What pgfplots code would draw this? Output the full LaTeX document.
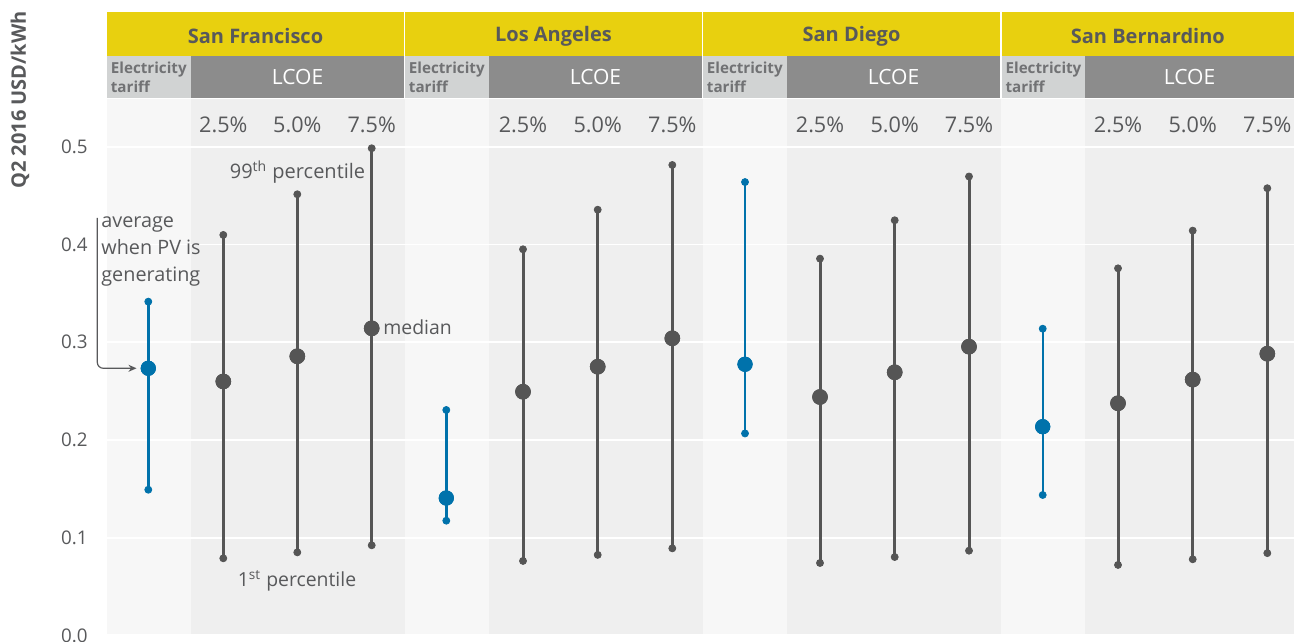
\documentclass[border=0pt]{standalone}
\usepackage{fontspec}
\setmainfont{Open Sans}
\usepackage{pgfplots}
\pgfplotsset{compat=1.18}
\usepackage{pgfplotstable}
\usetikzlibrary{arrows.meta}
\definecolor{ylw}{HTML}{E8D00F}
\definecolor{hdark}{HTML}{8C8C8C}
\definecolor{hlight}{HTML}{D1D3D3}
\definecolor{bgA}{HTML}{F7F7F7}
\definecolor{bgB}{HTML}{EFEFEF}
\definecolor{txt}{HTML}{58595B}
\definecolor{blu}{HTML}{0072AB}
\definecolor{dk}{HTML}{555555}

\pgfplotstableread{
x med lo hi
148.3 0.2734 0.1491 0.3416
446.3 0.1406 0.1174 0.2307
745.0 0.2775 0.2067 0.4640
1042.7 0.2136 0.1437 0.3139
}\tariff

\pgfplotstableread{
x med lo hi
223.3 0.2599 0.0789 0.4099
297.3 0.2857 0.0850 0.4515
371.7 0.3143 0.0922 0.4986
523.0 0.2494 0.0762 0.3952
597.7 0.2750 0.0824 0.4357
672.3 0.3041 0.0891 0.4815
820.0 0.2440 0.0741 0.3856
894.7 0.2693 0.0802 0.4249
969.0 0.2955 0.0867 0.4697
1118.0 0.2376 0.0721 0.3757
1192.7 0.2618 0.0779 0.4143
1267.3 0.2883 0.0842 0.4577
}\lcoe

\newcommand{\panelbg}[3]{%
  \fill[bgA] (axis cs:#1,0) rectangle (axis cs:#2,{(635.4-99)/977});
  \fill[bgB] (axis cs:#2,0) rectangle (axis cs:#3,{(635.4-99)/977});}
\newcommand{\panelhd}[3]{%
  \fill[ylw] (axis cs:#1,{(635.4-56)/977}) rectangle (axis cs:#3,{(635.4-12)/977});
  \fill[hlight] (axis cs:#1,{(635.4-97.7)/977}) rectangle (axis cs:#2,{(635.4-56)/977});
  \fill[hdark] (axis cs:#2,{(635.4-97.7)/977}) rectangle (axis cs:#3,{(635.4-56)/977});}
\newcommand{\pcts}[3]{%
  \node[font=\fontsize{10.8}{12}\selectfont, text=txt] at (axis cs:#1,{(635.4-125)/977}) {2.5\%};
  \node[font=\fontsize{10.8}{12}\selectfont, text=txt] at (axis cs:#2,{(635.4-125)/977}) {5.0\%};
  \node[font=\fontsize{10.8}{12}\selectfont, text=txt] at (axis cs:#3,{(635.4-125)/977}) {7.5\%};}
\newcommand{\subhd}[3]{%
  \node[font=\fontsize{7.6}{9.5}\selectfont\bfseries, text=txt!85, align=left, anchor=west, inner sep=0pt] at (axis cs:{#1+3.5},{(635.4-77)/977}) {Electricity\\tariff};
  \node[font=\fontsize{10.5}{12}\selectfont, text=white] at (axis cs:{(#2+#3)/2},{(635.4-77)/977}) {LCOE};}

\begin{document}
\begin{tikzpicture}
\begin{axis}[
  set layers, scale only axis, width=593.5pt, height=311.7pt,
  xmin=107, xmax=1294, ymin=0, ymax=0.6381,
  clip=false,
  axis line style={draw=none},
  xtick=\empty,
  ytick={0,0.1,0.2,0.3,0.4,0.5},
  yticklabels={0.0,0.1,0.2,0.3,0.4,0.5},
  major tick length=0pt,
  yticklabel style={font=\fontsize{9.4}{11}\selectfont, text=txt, anchor=east, inner sep=0pt, xshift=-9.5pt},
  ymajorgrids, grid style={white, line width=0.9pt},
]
\begin{pgfonlayer}{axis background}
\panelbg{107}{191}{404.5}
\panelbg{404.5}{489}{703}
\panelbg{703}{787}{1001}
\panelbg{1001}{1085}{1294}
\panelhd{107}{191}{404}
\panelhd{405}{489}{702}
\panelhd{703}{787}{1000}
\panelhd{1001.7}{1085}{1294}
\end{pgfonlayer}

% LCOE whiskers
\addplot[only marks, mark=*, mark size=3.7pt, color=dk,
  error bars/.cd, y dir=both, y explicit,
  error bar style={line width=1.5pt, color=dk}, error mark=none]
  table[x=x, y=med, y error plus expr=\thisrow{hi}-\thisrow{med}, y error minus expr=\thisrow{med}-\thisrow{lo}] {\lcoe};
\addplot[only marks, mark=*, mark size=1.75pt, color=dk] table[x=x, y=lo] {\lcoe};
\addplot[only marks, mark=*, mark size=1.75pt, color=dk] table[x=x, y=hi] {\lcoe};
\addplot[only marks, mark=*, mark size=3.7pt, color=dk] table[x=x, y=med] {\lcoe};

% tariff whiskers
\addplot[only marks, mark=*, mark size=3.6pt, color=blu,
  error bars/.cd, y dir=both, y explicit,
  error bar style={line width=1.2pt, color=blu}, error mark=none]
  table[x=x, y=med, y error plus expr=\thisrow{hi}-\thisrow{med}, y error minus expr=\thisrow{med}-\thisrow{lo}] {\tariff};
\addplot[only marks, mark=*, mark size=1.75pt, color=blu] table[x=x, y=lo] {\tariff};
\addplot[only marks, mark=*, mark size=1.75pt, color=blu] table[x=x, y=hi] {\tariff};
\addplot[only marks, mark=*, mark size=3.6pt, color=blu] table[x=x, y=med] {\tariff};

% header texts
\node[font=\fontsize{10}{12}\selectfont\bfseries, text=txt] at (axis cs:255.5,{(635.4-36)/977}) {San Francisco};
\node[font=\fontsize{10}{12}\selectfont\bfseries, text=txt] at (axis cs:553.5,{(635.4-36)/977}) {Los Angeles};
\node[font=\fontsize{10}{12}\selectfont\bfseries, text=txt] at (axis cs:851.5,{(635.4-36)/977}) {San Diego};
\node[font=\fontsize{10}{12}\selectfont\bfseries, text=txt] at (axis cs:1147.8,{(635.4-36)/977}) {San Bernardino};
\subhd{107}{191}{404}
\subhd{405}{489}{702}
\subhd{703}{787}{1000}
\subhd{1001.7}{1085}{1294}
\pcts{223.3}{297.3}{371.7}
\pcts{523}{597.7}{672.3}
\pcts{820}{894.7}{969}
\pcts{1118}{1192.7}{1267.3}

% annotations
\node[font=\fontsize{10}{12}\selectfont, text=txt] at (axis cs:297.5,{(635.4-172)/977}) {99\textsuperscript{th} percentile};
\node[font=\fontsize{9.7}{12}\selectfont, text=txt, anchor=west, inner sep=0pt] at (axis cs:383,{(635.4-327)/977}) {median};
\node[font=\fontsize{9.7}{12}\selectfont, text=txt] at (axis cs:297,{(635.4-581)/977}) {1\textsuperscript{st} percentile};
\node[font=\fontsize{9.9}{13.5}\selectfont, text=txt, align=left, anchor=west, inner sep=0pt] at (axis cs:101,{(635.4-251)/977}) {average\\when PV is\\generating};
\draw[txt, line width=0.6pt, rounded corners=3pt, -{Stealth[length=4pt,width=3.5pt]}] (axis cs:97.3,{(635.4-218)/977}) |- (axis cs:136.5,{(635.4-368.3)/977});

% y label
\node[rotate=90, font=\fontsize{10}{12}\selectfont\bfseries, text=txt] at (axis cs:20,{(635.4-100)/977}) {Q2 2016 USD/kWh};

\coordinate (BL) at (axis cs:0,{(635.4-642)/977});
\coordinate (TR) at (axis cs:1294,{635.4/977});
\end{axis}
\pgfresetboundingbox
\path[use as bounding box] (BL) rectangle (TR);
\end{tikzpicture}
\end{document}
